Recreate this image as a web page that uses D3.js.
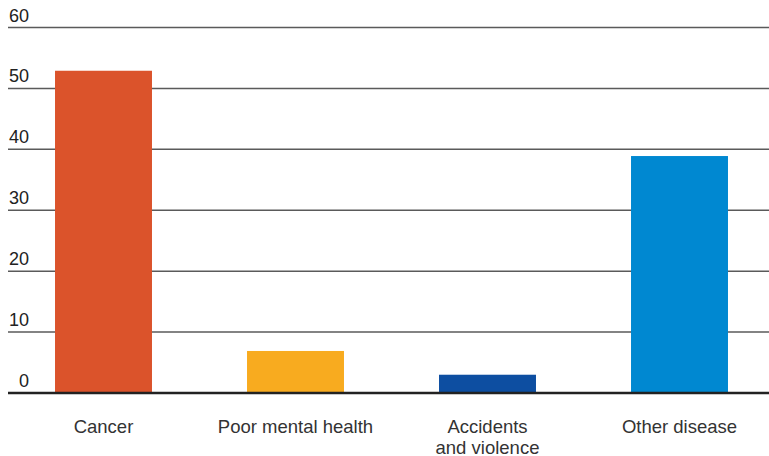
<!DOCTYPE html>
<html><head><meta charset="utf-8">
<script src="https://cdn.jsdelivr.net/npm/d3@7"></script>
<style>body{margin:0;background:#fff}svg{display:block}text{font-family:"Liberation Sans",Arial,sans-serif}</style>
</head><body><svg id="c" width="769" height="456"></svg>
<script>
const categories = [["Cancer"], ["Poor mental health"], ["Accidents", "and violence"], ["Other disease"]];
const values = [52.9, 6.9, 3.0, 38.9];
const colors = ["#db532b", "#f8ab1f", "#0d4ea1", "#0088d1"];
const yTicks = [0, 10, 20, 30, 40, 50, 60];

const svg = d3.select("#c");
const y = d3.scaleLinear().domain([0, 60]).range([393, 27.5]);
const x = d3.scaleBand().domain(d3.range(categories.length)).range([7.5, 775.5]).paddingInner(0.495).paddingOuter(0.2475);

const g = svg.append("g");
g.selectAll("line.grid").data(yTicks.filter(d => d !== 0)).join("line")
  .attr("x1", 8).attr("x2", 769)
  .attr("y1", d => y(d)).attr("y2", d => y(d))
  .attr("stroke", "#5a5a5a").attr("stroke-width", 1.5);

g.selectAll("text.tick").data(yTicks).join("text")
  .attr("x", 29).attr("y", d => y(d) - 6)
  .attr("text-anchor", "end").attr("font-size", 18).attr("fill", "#222")
  .text(d => d);

g.selectAll("rect").data(values).join("rect")
  .attr("x", (d, i) => x(i)).attr("width", x.bandwidth())
  .attr("y", d => y(d)).attr("height", d => y(0) - y(d))
  .attr("fill", (d, i) => colors[i]);

g.append("line").attr("x1", 8).attr("x2", 769).attr("y1", y(0)).attr("y2", y(0))
  .attr("stroke", "#222").attr("stroke-width", 2.5);

const lab = g.selectAll("text.cat").data(categories).join("text")
  .attr("text-anchor", "middle").attr("font-size", 18.5).attr("fill", "#333")
  .attr("x", (d, i) => x(i) + x.bandwidth() / 2).attr("y", 433);
lab.selectAll("tspan").data(d => d).join("tspan")
  .attr("x", function() { return this.parentNode.getAttribute("x"); })
  .attr("dy", (d, i) => i === 0 ? 0 : 20.5)
  .text(d => d);
</script></body></html>
